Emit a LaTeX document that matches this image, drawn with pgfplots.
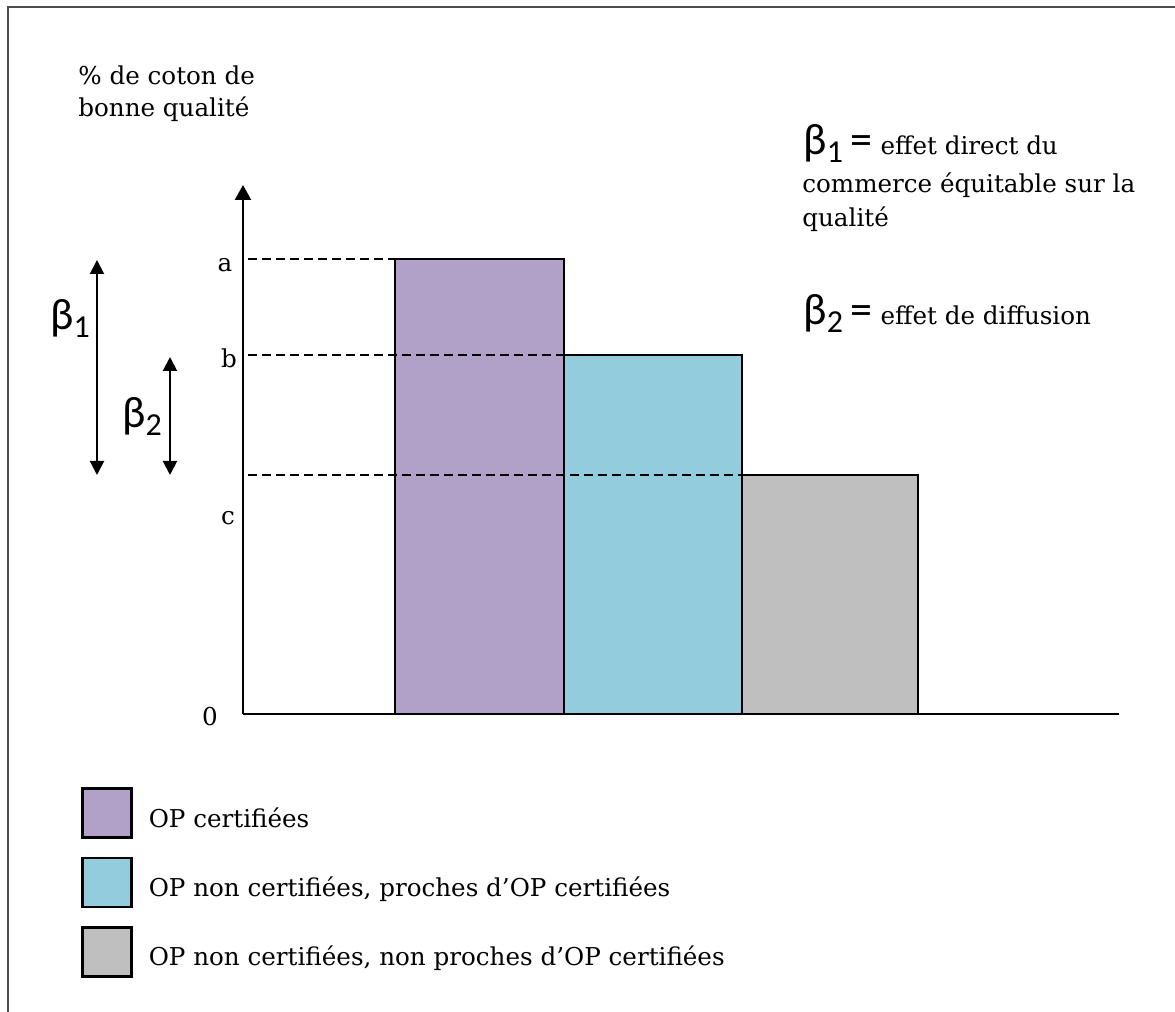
\documentclass[border=0pt]{standalone}
\usepackage{pgfplots}
\pgfplotsset{compat=1.18}
\usepackage{fontspec}
\setmainfont{DejaVu Serif}
\newfontfamily\betafont{Carlito}
\usetikzlibrary{arrows.meta}

\definecolor{certif}{HTML}{B1A0C7}
\definecolor{proche}{HTML}{93CDDD}
\definecolor{loin}{HTML}{BFBFBF}

% beta with its index, as in the original
\newcommand{\bet}[1]{{\betafont\fontsize{22}{24}\selectfont β\raisebox{-4pt}{\fontsize{16}{18}\selectfont #1}}}
\newcommand{\eq}{{\betafont\fontsize{22}{24}\selectfont =}}

\begin{document}
\fontsize{12.3}{16}\selectfont
\begin{tikzpicture}[font=\fontsize{12.3}{16}\selectfont,
  txt/.style={anchor=base west, inner sep=0pt},
  lab/.style={anchor=base, inner sep=0pt}]
\useasboundingbox (-121.5pt,-149pt) rectangle (466pt,357pt);
\begin{axis}[
  at={(0,0)}, anchor=origin,
  x=0.5pt, y=0.5pt,
  xmin=0, xmax=876, ymin=0, ymax=529,
  axis lines=left,
  axis line style={line width=1.2pt},
  x axis line style={-},
  y axis line style={-{Triangle[width=8pt,length=7.5pt]}},
  xtick=\empty, ytick=\empty,
  clip=false,
  legend cell align=left,
  legend style={at={(axis cs:-162,-73)}, anchor=north west, draw=none, fill=none,
    inner sep=0pt, row sep=9pt,
    /tikz/every odd column/.append style={column sep=6pt}},
  legend image code/.code={\draw[#1, draw=black, line width=1.2pt] (0pt,-9.25pt) rectangle (24.5pt,15.25pt);},
]
% bars: a, b, c
\addplot[ybar interval, fill=certif, draw=black, line width=1.1pt] coordinates {(152,455) (321,455)};
\addplot[ybar interval, fill=proche, draw=black, line width=1.1pt] coordinates {(321,359) (499,359)};
\addplot[ybar interval, fill=loin, draw=black, line width=1.1pt] coordinates {(499,239) (675,239)};
\legend{OP certifiées, {OP non certifiées, proches d’OP certifiées}, {OP non certifiées, non proches d’OP certifiées}}

% dashed guides
\addplot[forget plot, black, line width=1pt, dash pattern=on 4.5pt off 2.5pt] coordinates {(5,455) (152,455)};
\addplot[forget plot, black, line width=1pt, dash pattern=on 4.5pt off 2.5pt] coordinates {(5,359) (321,359)};
\addplot[forget plot, black, line width=1pt, dash pattern=on 4.5pt off 2.5pt] coordinates {(5,239) (499,239)};

% effect arrows
\addplot[forget plot, black, line width=1pt, {Triangle[width=7pt,length=7pt]}-{Triangle[width=7pt,length=7pt]}] coordinates {(-146,454) (-146,239)};
\addplot[forget plot, black, line width=1pt, {Triangle[width=7pt,length=7pt]}-{Triangle[width=7pt,length=7pt]}] coordinates {(-73,357) (-73,239)};

\node[anchor=center] at (axis cs:-173,396) {\bet{1}};
\node[anchor=center] at (axis cs:-101,298) {\bet{2}};

% axis labels
\node[lab] at (axis cs:-18,442) {a};
\node[lab] at (axis cs:-14,346) {b};
\node[lab] at (axis cs:-15,189) {c};
\node[lab] at (axis cs:-33,-12) {0};
\node[txt] at (axis cs:-165,629) {\% de coton de};
\node[txt] at (axis cs:-165,597) {bonne qualité};

% notes
\node[txt] at (axis cs:560,559) {\bet{1} \eq{} effet direct du};
\node[txt] at (axis cs:559,521) {commerce équitable sur la};
\node[txt] at (axis cs:559,487) {qualité};
\node[txt] at (axis cs:560,389) {\bet{2} \eq{} effet de diffusion};

% frame
\draw[line width=0.75pt, gray!60!black] (axis cs:-235,-300) -- (axis cs:-235,707) -- (axis cs:935,707);
\end{axis}
\end{tikzpicture}
\end{document}
